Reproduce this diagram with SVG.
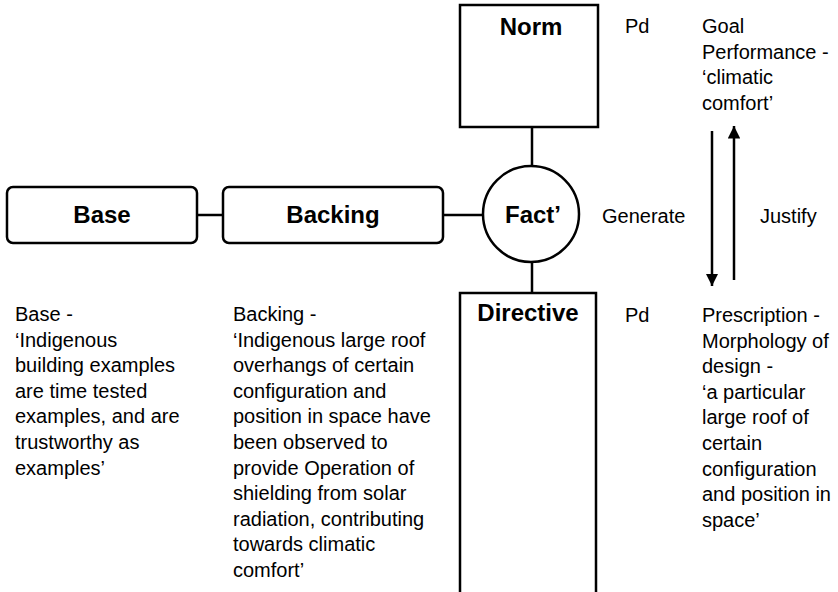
<svg xmlns="http://www.w3.org/2000/svg" width="838" height="592" viewBox="0 0 838 592">
  <defs>
    <style>
      .box { fill: #fff; stroke: #000; stroke-width: 2.5; }
      .link { stroke: #000; stroke-width: 2.5; fill: none; }
      .title { font-family: "Liberation Sans", Arial, sans-serif; font-size: 24px; font-weight: bold; fill: #000; text-anchor: middle; }
      .note { font-family: "Liberation Sans", Arial, sans-serif; font-size: 20px; fill: #000; }
    </style>
    <marker id="head" viewBox="0 0 10 10" refX="10" refY="5" markerWidth="5" markerHeight="5" orient="auto" markerUnits="strokeWidth">
      <path d="M0,0 L10,5 L0,10 Z" fill="#000"/>
    </marker>
  </defs>

  <rect width="838" height="592" fill="#fff"/>

  <!-- connectors -->
  <g id="connectors">
    <line class="link" x1="197" y1="215" x2="223" y2="215"/>
    <line class="link" x1="443" y1="215" x2="483" y2="215"/>
    <line class="link" x1="532" y1="127" x2="532" y2="166"/>
    <line class="link" x1="532" y1="262" x2="532" y2="293"/>
    <line class="link" x1="712" y1="131" x2="712" y2="286" marker-end="url(#head)"/>
    <line class="link" x1="734" y1="280" x2="734" y2="126" marker-end="url(#head)"/>
  </g>

  <!-- nodes -->
  <g id="node-base">
    <rect class="box" x="7" y="187" width="190" height="56" rx="6"/>
    <text class="title" x="102" y="223">Base</text>
  </g>

  <g id="node-backing">
    <rect class="box" x="223" y="187" width="220" height="56" rx="6"/>
    <text class="title" x="333" y="223">Backing</text>
  </g>

  <g id="node-fact">
    <circle class="box" cx="531" cy="214" r="48"/>
    <text class="title" x="533" y="223">Fact’</text>
  </g>

  <g id="node-norm">
    <rect class="box" x="460" y="5" width="138" height="122"/>
    <text class="title" x="531" y="35">Norm</text>
  </g>

  <g id="node-directive">
    <rect class="box" x="460" y="293" width="136" height="320"/>
    <text class="title" x="528" y="321">Directive</text>
  </g>

  <!-- labels -->
  <g id="labels" class="note">
    <text x="625" y="33">Pd</text>
    <text x="625" y="322">Pd</text>
    <text x="602" y="223">Generate</text>
    <text x="760" y="223">Justify</text>

    <text x="702" y="33">
      <tspan x="702" dy="0">Goal</tspan>
      <tspan x="702" dy="25.6">Performance -</tspan>
      <tspan x="702" dy="25.6">‘climatic</tspan>
      <tspan x="702" dy="25.6">comfort’</tspan>
    </text>

    <text x="702" y="322">
      <tspan x="702" dy="0">Prescription -</tspan>
      <tspan x="702" dy="25.6">Morphology of</tspan>
      <tspan x="702" dy="25.6">design -</tspan>
      <tspan x="702" dy="25.6">‘a particular</tspan>
      <tspan x="702" dy="25.6">large roof of</tspan>
      <tspan x="702" dy="25.6">certain</tspan>
      <tspan x="702" dy="25.6">configuration</tspan>
      <tspan x="702" dy="25.6">and position in</tspan>
      <tspan x="702" dy="25.6">space’</tspan>
    </text>

    <text x="15" y="321">
      <tspan x="15" dy="0">Base -</tspan>
      <tspan x="15" dy="25.6">‘Indigenous</tspan>
      <tspan x="15" dy="25.6">building examples</tspan>
      <tspan x="15" dy="25.6">are time tested</tspan>
      <tspan x="15" dy="25.6">examples, and are</tspan>
      <tspan x="15" dy="25.6">trustworthy as</tspan>
      <tspan x="15" dy="25.6">examples’</tspan>
    </text>

    <text x="233" y="321">
      <tspan x="233" dy="0">Backing -</tspan>
      <tspan x="233" dy="25.6">‘Indigenous large roof</tspan>
      <tspan x="233" dy="25.6">overhangs of certain</tspan>
      <tspan x="233" dy="25.6">configuration and</tspan>
      <tspan x="233" dy="25.6">position in space have</tspan>
      <tspan x="233" dy="25.6">been observed to</tspan>
      <tspan x="233" dy="25.6">provide Operation of</tspan>
      <tspan x="233" dy="25.6">shielding from solar</tspan>
      <tspan x="233" dy="25.6">radiation, contributing</tspan>
      <tspan x="233" dy="25.6">towards climatic</tspan>
      <tspan x="233" dy="25.6">comfort’</tspan>
    </text>
  </g>
</svg>
